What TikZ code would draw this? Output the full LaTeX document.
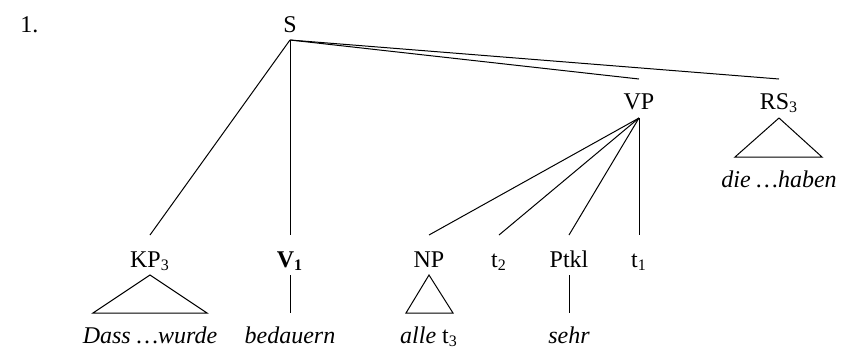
\documentclass[tikz,border=0pt]{standalone}
\usepackage{fontspec}
\setmainfont{Liberation Serif}
\begin{document}
\begin{tikzpicture}[x=0.5pt,y=-0.5pt,
  lbl/.style={inner sep=0pt,anchor=base,font=\fontsize{12pt}{14pt}\selectfont},
  edge/.style={line width=0.5pt}]
\useasboundingbox (0,0) rectangle (841,349);
\node[lbl,anchor=base west] (num) at (20,32) {1.};
% labels
\node[lbl] (S) at (290,32) {S};
\node[lbl] (VP) at (639,109) {VP};
\node[lbl] (RS) at (779,109) {RS\textsubscript{3}};
\node[lbl] (KP) at (150,267) {KP\textsubscript{3}};
\node[lbl] (V) at (290,267) {\textbf{V\textsubscript{1}}};
\node[lbl] (NP) at (429,267) {NP};
\node[lbl] (t2) at (499,267) {t\textsubscript{2}};
\node[lbl] (Ptkl) at (569,267) {Ptkl};
\node[lbl] (t1) at (639,267) {t\textsubscript{1}};
\node[lbl] (die) at (779,187) {\textit{die \dots haben}};
\node[lbl] (dass) at (150,343) {\textit{Dass \dots wurde}};
\node[lbl] (bed) at (290,343) {\textit{bedauern}};
\node[lbl] (alle) at (429,343) {\textit{alle} t\textsubscript{3}};
\node[lbl] (sehr) at (569,343) {\textit{sehr}};
% attachment points
\coordinate (Sb) at (290,40);
\coordinate (VPt) at (639,79);
\coordinate (VPb) at (639,118);
\coordinate (RSt) at (779,79);
\coordinate (RSb) at (779,118);
\coordinate (KPt) at (150,235);
\coordinate (KPb) at (150,275);
\coordinate (Vt) at (290,235);
\coordinate (Vb) at (290,275);
\coordinate (NPt) at (429,235);
\coordinate (NPb) at (429,275);
\coordinate (t2t) at (499,235);
\coordinate (Ptt) at (569,235);
\coordinate (Ptb) at (569,275);
\coordinate (t1t) at (639,235);
\coordinate (bedt) at (290,313);
\coordinate (sehrt) at (569,313);
% edges
\draw[edge] (Sb) -- (KPt);
\draw[edge] (Sb) -- (Vt);
\draw[edge] (Sb) -- (VPt);
\draw[edge] (Sb) -- (RSt);
\draw[edge] (VPb) -- (NPt);
\draw[edge] (VPb) -- (t2t);
\draw[edge] (VPb) -- (Ptt);
\draw[edge] (VPb) -- (t1t);
\draw[edge] (Vb) -- (bedt);
\draw[edge] (Ptb) -- (sehrt);
% triangles
\draw[edge] (RSb) -- (735,157) -- (822,157) -- cycle;
\draw[edge] (KPb) -- (93,313) -- (207,313) -- cycle;
\draw[edge] (NPb) -- (406,313) -- (453,313) -- cycle;
\end{tikzpicture}
\end{document}
